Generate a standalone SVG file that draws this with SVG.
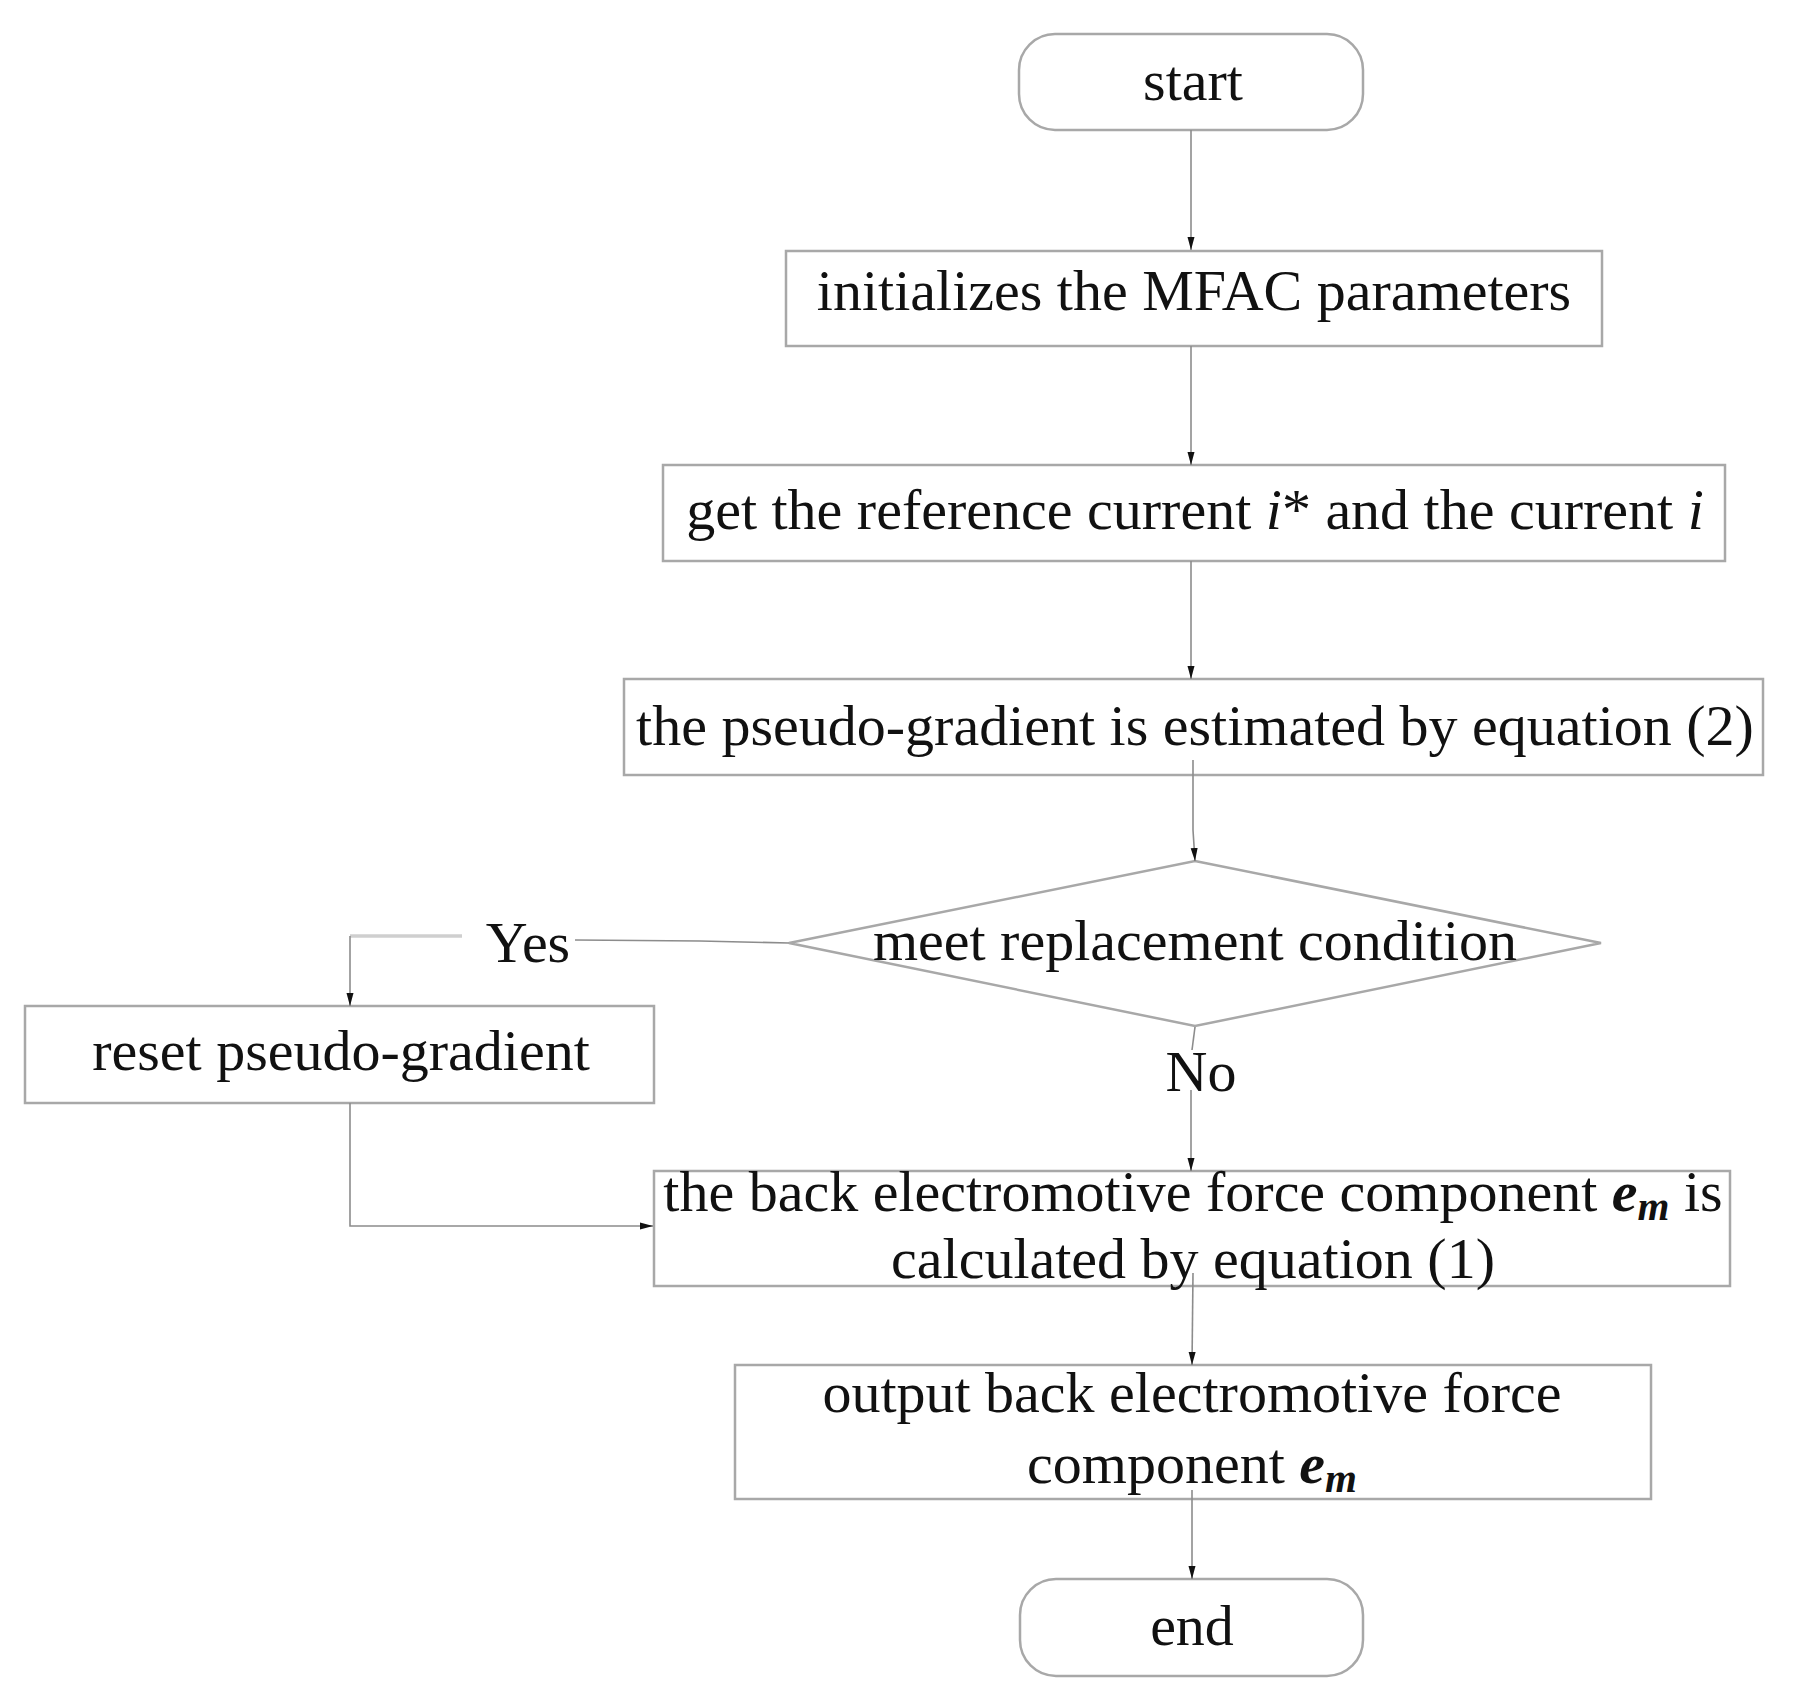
<svg xmlns="http://www.w3.org/2000/svg" width="1808" height="1705" viewBox="0 0 1808 1705">
<style>
.box{fill:#fff;stroke:#a8a8a8;stroke-width:2.5}
.t{font-family:"Liberation Serif","Times New Roman",serif;font-size:58px;fill:#111;text-anchor:middle}
.it{font-style:italic}
.bi{font-style:italic;font-weight:bold}
.c{fill:none;stroke:#8c8c8c;stroke-width:1.6}
.cl{fill:none;stroke:#cfcfcf;stroke-width:3.5}
</style>
<defs>
<marker id="ah" markerUnits="userSpaceOnUse" markerWidth="14" markerHeight="9" refX="13" refY="4.5" orient="auto">
<path d="M0,1 L13,4.5 L0,8 z" fill="#111"/>
</marker>
</defs>
<rect width="1808" height="1705" fill="#fff"/>
<g id="start">
<rect class="box" x="1019" y="34" width="344" height="96" rx="36"/>
<text class="t" x="1193" y="100">start</text>
</g>
<g id="init">
<rect class="box" x="786" y="251" width="816" height="95"/>
<text class="t" x="1194" y="310">initializes the MFAC parameters</text>
</g>
<g id="get">
<rect class="box" x="663" y="465" width="1062" height="96"/>
<text class="t" x="1195" y="529">get the reference current <tspan class="it">i</tspan>* and the current <tspan class="it">i</tspan></text>
</g>
<g id="pseudo">
<rect class="box" x="624" y="679" width="1139" height="96"/>
<text class="t" x="1195" y="745">the pseudo-gradient is estimated by equation (2)</text>
</g>
<g id="decision">
<polygon class="box" points="1195,861 1601,943 1195,1026 789,943"/>
<text class="t" x="1195" y="960">meet replacement condition</text>
</g>
<g id="reset">
<rect class="box" x="25" y="1006" width="629" height="97"/>
<text class="t" x="341" y="1070">reset pseudo-gradient</text>
</g>
<g id="calc">
<rect class="box" x="654" y="1171" width="1076" height="115"/>
<text class="t" x="1193" y="1211">the back electromotive force component <tspan class="bi">e</tspan><tspan class="bi" font-size="41" dy="9">m</tspan><tspan dy="-9"> is</tspan></text>
<text class="t" x="1193" y="1278">calculated by equation (1)</text>
</g>
<g id="output">
<rect class="box" x="735" y="1365" width="916" height="134"/>
<text class="t" x="1192" y="1412">output back electromotive force</text>
<text class="t" x="1192" y="1483">component <tspan class="bi">e</tspan><tspan class="bi" font-size="41" dy="9">m</tspan></text>
</g>
<g id="end">
<rect class="box" x="1020" y="1579" width="343" height="97" rx="36"/>
<text class="t" x="1192" y="1645">end</text>
</g>
<g id="connectors">
<line class="c" x1="1191" y1="130" x2="1191" y2="250" marker-end="url(#ah)"/>
<line class="c" x1="1191" y1="346" x2="1191" y2="465" marker-end="url(#ah)"/>
<line class="c" x1="1191" y1="561" x2="1191" y2="679" marker-end="url(#ah)"/>
<polyline class="c" points="1193,760 1193,830 1195,861" marker-end="url(#ah)"/>
<polyline class="c" points="1195,1027 1192,1050"/>
<line class="c" x1="1191" y1="1090" x2="1191" y2="1171" marker-end="url(#ah)"/>
<polyline class="c" points="789,943 700,941 575,940"/>
<line class="cl" x1="462" y1="936" x2="350" y2="936"/>
<line class="c" x1="350" y1="936" x2="350" y2="1006" marker-end="url(#ah)"/>
<polyline class="c" points="350,1103 350,1226 653,1226" marker-end="url(#ah)"/>
<line class="c" x1="1193" y1="1273" x2="1192" y2="1365" marker-end="url(#ah)"/>
<line class="c" x1="1192" y1="1490" x2="1192" y2="1579" marker-end="url(#ah)"/>
<text class="t" x="528" y="962">Yes</text>
<text class="t" x="1201" y="1091">No</text>
</g>
</svg>
